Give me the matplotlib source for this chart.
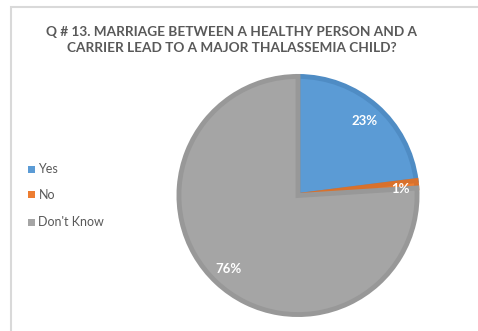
import matplotlib
matplotlib.use("Agg")
import matplotlib.pyplot as plt
from matplotlib.patches import Rectangle

# Survey responses
categories = ["Yes", "No", "Don't Know"]
values = [23, 1, 76]
labels = ["23%", "1%", "76%"]
fill_colors = ["#5B9BD5", "#ED7D31", "#A5A5A5"]
edge_colors = ["#4F8CC4", "#D9712C", "#989898"]
title = "Q # 13. MARRIAGE BETWEEN A HEALTHY PERSON AND A\nCARRIER LEAD TO A MAJOR THALASSEMIA CHILD?"

W, H = 478, 331
fig = plt.figure(figsize=(W / 100, H / 100), dpi=100)
fig.patch.set_facecolor("white")

# Chart frame
fig.add_artist(Rectangle((10.5 / W, -0.1), 1.2, (H - 6.5) / H + 0.1,
                         transform=fig.transFigure, fill=False,
                         edgecolor="#D9D9D9", linewidth=1.5))

# Title
fig.text(232 / W, 1 - 40 / H, title, ha="center", va="center",
         fontsize=9.8, fontweight="bold", color="#595959",
         family="Lato", linespacing=1.3)

# Pie axes: centre (298, 195.5) px, outer radius 121.5 px
cx, cy, R = 298, 195.5, 121.5
ax = fig.add_axes([(cx - R) / W, (H - cy - R) / H, 2 * R / W, 2 * R / H])
ax.axis("off")

edge_w = 3.5
wedges, _ = ax.pie(values, colors=fill_colors, startangle=90,
                   counterclock=False, radius=1.0,
                   wedgeprops=dict(linewidth=edge_w))
for w, ec in zip(wedges, edge_colors):
    w.set_edgecolor(ec)
    w.set_joinstyle("miter")

r_inner = R - edge_w * 100 / 72 / 2
lim = R / r_inner
ax.set_xlim(-lim, lim)
ax.set_ylim(-lim, lim)
ax.set_aspect("equal")

# Data labels (pixel positions)
label_pos = [(365, 121), (400, 189), (229, 269)]
for (px, py), lab in zip(label_pos, labels):
    fig.text(px / W, 1 - py / H, lab, ha="center", va="center",
             fontsize=9.5, fontweight="bold", color="white", family="Lato",
             zorder=10)

# Legend
leg_y = [169, 195, 222]
for name, col, py in zip(categories, fill_colors, leg_y):
    fig.add_artist(Rectangle((28 / W, 1 - (py + 3.5) / H), 7 / W, 7 / H,
                             transform=fig.transFigure, facecolor=col,
                             edgecolor="none"))
    fig.text(38.5 / W, 1 - py / H, name, ha="left", va="center",
             fontsize=9, color="#595959", family="Lato")

fig.savefig("out.png", dpi=100, facecolor="white")
